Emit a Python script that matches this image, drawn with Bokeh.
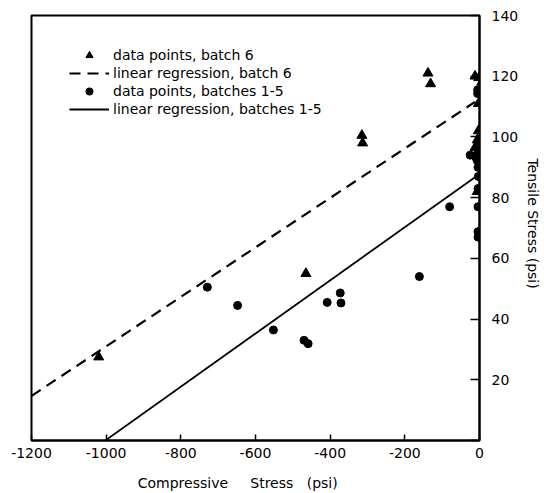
from bokeh.plotting import figure
from bokeh.models import Range1d, FixedTicker, Legend, LegendItem
from bokeh.embed import file_html
from bokeh.resources import INLINE

# Batch 6 measurements (compressive stress, tensile stress), psi
batch6_x = [-1020, -465, -315, -313, -138, -131, -12, -2, 6, -3, -3, -6, -2, -12, -4, -6]
batch6_y = [27.5, 55, 100.5, 98, 121, 117.5, 120, 119.5, 118, 111, 102, 99, 98.5, 96.5, 95.5, 82]

# Batches 1-5 measurements
batch15_x = [-729, -648, -552, -470, -459, -408, -373, -371, -161, -80,
             -5, -5, -25, -10, -6, -4, -3, -4, -4, -4, -4]
batch15_y = [50.5, 44.5, 36.4, 33, 31.9, 45.5, 48.6, 45.3, 54, 77,
             115.5, 114.3, 94, 93.3, 92.2, 90, 87, 83, 77, 68.8, 67]

# Linear regression fits: tensile = intercept + slope * compressive
batch6_fit = {"slope": 0.0815, "intercept": 112.5}
batch15_fit = {"slope": 0.0876, "intercept": 87.8}
batch6_fit_x = [-1200, -12]
batch15_fit_x = [-1002, -12]

x_ticks = [-1200, -1000, -800, -600, -400, -200, 0]
x_tick_labels = ["-1200", "-1000", "-800", "-600", "-400", "-200", "0"]
y_ticks = [0, 20, 40, 60, 80, 100, 120, 140]

FONT = "DejaVu Sans"
NB = "\u00a0"

p = figure(width=544, height=493, x_range=Range1d(-1200, 0), y_range=Range1d(0, 140),
           y_axis_location="right", output_backend="svg", toolbar_location=None,
           min_border_left=31, min_border_top=15, min_border_right=63, min_border_bottom=52)
p.xgrid.visible = False
p.ygrid.visible = False
p.outline_line_color = "black"
p.outline_line_width = 2
p.background_fill_color = "white"
p.border_fill_color = "white"

fit6_y = [batch6_fit["intercept"] + batch6_fit["slope"] * v for v in batch6_fit_x]
fit15_y = [batch15_fit["intercept"] + batch15_fit["slope"] * v for v in batch15_fit_x]

r_tri = p.scatter(batch6_x, batch6_y, marker="triangle", size=10, color="black")
r_dash = p.line(batch6_fit_x, fit6_y, line_color="black", line_width=2.2, line_dash="11 7")
r_circ = p.scatter(batch15_x, batch15_y, marker="circle", size=8, color="black")
r_solid = p.line(batch15_fit_x, fit15_y, line_color="black", line_width=1.8)

xa = p.xaxis[0]
xa.ticker = FixedTicker(ticks=x_ticks)
xa.major_label_overrides = dict(zip(x_ticks, x_tick_labels))
# wide word spacing; trailing blanks pull the title slightly left of centre
xa.axis_label = "Compressive" + NB * 5 + "Stress" + NB * 3 + "(psi)" + NB * 8
ya = p.yaxis[0]
ya.ticker = FixedTicker(ticks=y_ticks)
ya.major_label_overrides = {0: ""}
ya.axis_label = "Tensile  Stress  (psi)"

for ax in (xa, ya):
    ax.axis_line_color = "black"
    ax.axis_line_width = 2
    ax.major_tick_line_color = "black"
    ax.major_tick_line_width = 1.5
    ax.major_tick_out = 0
    ax.minor_tick_in = 0
    ax.minor_tick_out = 0
    ax.major_label_text_font = FONT
    ax.major_label_text_font_size = "14px"
    ax.major_label_text_color = "black"
    ax.axis_label_text_font = FONT
    ax.axis_label_text_font_size = "14px"
    ax.axis_label_text_font_style = "normal"
    ax.axis_label_text_color = "black"

xa.major_tick_in = 6
xa.major_label_standoff = 7
xa.axis_label_standoff = 14
ya.major_tick_in = 9
ya.major_label_standoff = 12
ya.axis_label_standoff = 4

legend = Legend(items=[
    LegendItem(label="data points, batch 6", renderers=[r_tri]),
    LegendItem(label="linear regression, batch 6", renderers=[r_dash]),
    LegendItem(label="data points, batches 1-5", renderers=[r_circ]),
    LegendItem(label="linear regression, batches 1-5", renderers=[r_solid]),
], location=(38, 322), glyph_width=40, glyph_height=18, label_height=18, spacing=0,
    padding=0, margin=0, border_line_alpha=0, background_fill_alpha=0,
    label_text_font=FONT, label_text_font_size="14px", label_text_color="black",
    label_standoff=4)
p.add_layout(legend)

open("out.html", "w").write(file_html(p, INLINE))
